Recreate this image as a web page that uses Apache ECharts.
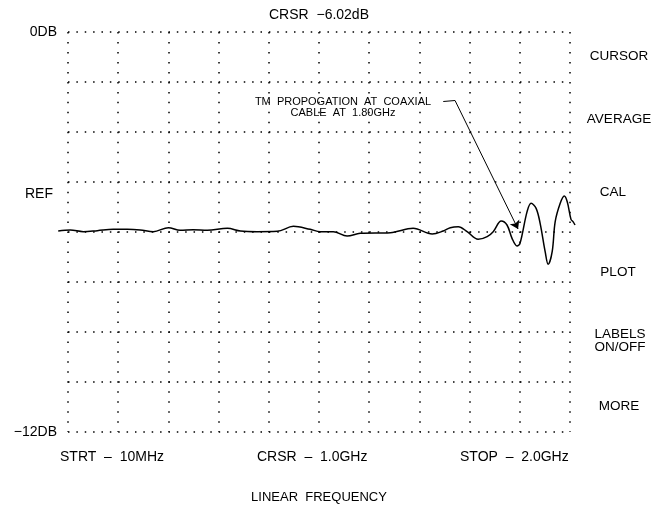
<!DOCTYPE html>
<html>
<head>
<meta charset="utf-8">
<title>TM propagation - linear frequency</title>
<script src="https://cdn.jsdelivr.net/npm/echarts@6/dist/echarts.min.js"></script>
<style>
  html, body { margin: 0; padding: 0; background: #fff; }
  #chart { width: 653px; height: 507px; }
</style>
</head>
<body>
<div id="chart"></div>
<script>
  // trace: frequency in MHz, level in dB
  var freq = [-39, 9, 61, 117, 180, 236, 288, 340, 400, 447, 499, 555, 635, 687, 754, 834, 898, 965,
    1005, 1057, 1112, 1164, 1284, 1375, 1451, 1495, 1523, 1555, 1590, 1634, 1670, 1694, 1726, 1749,
    1769, 1789, 1801, 1829, 1845, 1865, 1881, 1901, 1913, 1929, 1941, 1961, 1977, 1989, 2004, 2012, 2020];
  var level = [-5.97, -5.94, -5.99, -5.96, -5.92, -5.92, -5.94, -5.99, -5.87, -5.95, -5.93, -5.95, -5.89, -5.97, -5.99, -5.98, -5.83, -5.92,
    -5.99, -5.99, -6.12, -6.04, -6.02, -5.89, -6.06, -5.97, -5.87, -5.84, -5.99, -6.22, -6.14, -5.99, -5.67, -5.79,
    -6.19, -6.42, -6.34, -5.39, -5.14, -5.29, -5.74, -6.59, -6.97, -6.59, -5.69, -5.14, -4.92, -5.09, -5.62, -5.69, -5.79];

  // leader line of the note: text end, bend, arrow tip (MHz, dB)
  var leader = [[1495, -2.085], [1542, -2.055], [1793, -5.91]];

  var yTickLabels = { '0': '0DB', '-12': '\u221212DB' };
  var bottomLabels = ['STRT  \u2013  10MHz', 'CRSR  \u2013  1.0GHz', 'STOP  \u2013  2.0GHz'];
  var softKeys = ['CURSOR', 'AVERAGE', 'CAL', 'PLOT', 'LABELS\nON/OFF', 'MORE'];

  var font = '"Liberation Sans", Arial, sans-serif';
  var chart = echarts.init(document.getElementById('chart'));

  // main grid (dotted graticule, 0..2000 MHz)
  var gLeft = 68, gRight = 83, gTop = 32, gBottom = 75;
  var xMin = 0, xMax = 2000;
  // the trace runs a little past the graticule on both sides, so it sits on a
  // second grid with the same scale but a wider span
  var pxPerMHz = (653 - gLeft - gRight) / (xMax - xMin);
  var tMin = freq[0], tMax = freq[freq.length - 1];
  var tLeft = gLeft + (tMin - xMin) * pxPerMHz;
  var tRight = gRight - (tMax - xMax) * pxPerMHz;

  var keyY = [56, 119, 192, 272, 341, 406];
  var keyX = [619, 619, 613, 618, 620, 619];
  var keyTexts = softKeys.map(function (k, i) {
    return {
      type: 'text', x: keyX[i], y: keyY[i],
      style: { text: k, fill: '#000', font: '13.5px ' + font, align: 'center', verticalAlign: 'middle', lineHeight: 13 }
    };
  });
  var bottomX = [60, 257, 460];
  var bottomTexts = bottomLabels.map(function (t, i) {
    return {
      type: 'text', x: bottomX[i], y: 457,
      style: { text: t, fill: '#000', font: '14px ' + font, align: 'left', verticalAlign: 'middle' }
    };
  });

  chart.setOption({
    animation: false,
    backgroundColor: '#fff',
    grid: [
      { left: gLeft, right: gRight, top: gTop, bottom: gBottom },
      { left: tLeft, right: tRight, top: gTop, bottom: gBottom }
    ],
    xAxis: [{
      type: 'value', min: xMin, max: xMax, interval: 200,
      axisLine: { show: false }, axisTick: { show: false }, axisLabel: { show: false },
      splitLine: { show: true, lineStyle: { color: '#000', width: 1.5, type: [1.5, 8.48] } }
    }, {
      type: 'value', gridIndex: 1, min: tMin, max: tMax, show: false, splitLine: { show: false }
    }],
    yAxis: [{
      type: 'value', min: -12, max: 0, interval: 1.5,
      axisLine: { show: false }, axisTick: { show: false },
      axisLabel: {
        color: '#000', fontSize: 14, fontFamily: font, margin: 11,
        formatter: function (v) { return yTickLabels[String(v)] || ''; }
      },
      splitLine: { show: true, lineStyle: { color: '#000', width: 1.5, type: [1.5, 6.87] } }
    }, {
      type: 'value', gridIndex: 1, min: -12, max: 0, show: false, splitLine: { show: false }
    }],
    graphic: [
      { type: 'text', x: 319, y: 15,
        style: { text: 'CRSR  \u22126.02dB', fill: '#000', font: '14px ' + font, align: 'center', verticalAlign: 'middle' } },
      { type: 'text', x: 25, y: 194,
        style: { text: 'REF', fill: '#000', font: '14px ' + font, align: 'left', verticalAlign: 'middle' } },
      { type: 'text', x: 319, y: 497,
        style: { text: 'LINEAR  FREQUENCY', fill: '#000', font: '13px ' + font, align: 'center', verticalAlign: 'middle' } },
      { type: 'text', x: 343, y: 107.5,
        style: { text: 'TM  PROPOGATION  AT  COAXIAL\nCABLE  AT  1.80GHz', fill: '#000', font: '11px ' + font,
          align: 'center', verticalAlign: 'middle', lineHeight: 11.6 } }
    ].concat(keyTexts, bottomTexts),
    series: [{
      type: 'line',
      xAxisIndex: 1, yAxisIndex: 1,
      data: freq.map(function (f, i) { return [f, level[i]]; }),
      smooth: 0.35,
      symbol: 'none',
      lineStyle: { color: '#000', width: 1.5 },
      markLine: {
        silent: true,
        symbol: ['none', 'arrow'],
        symbolSize: 8,
        label: { show: false },
        lineStyle: { color: '#000', width: 1, type: 'solid' },
        data: [
          [{ coord: leader[0], symbol: 'none' }, { coord: leader[1], symbol: 'none' }],
          [{ coord: leader[1], symbol: 'none' }, { coord: leader[2], symbol: 'arrow' }]
        ]
      }
    }]
  });
</script>
</body>
</html>
